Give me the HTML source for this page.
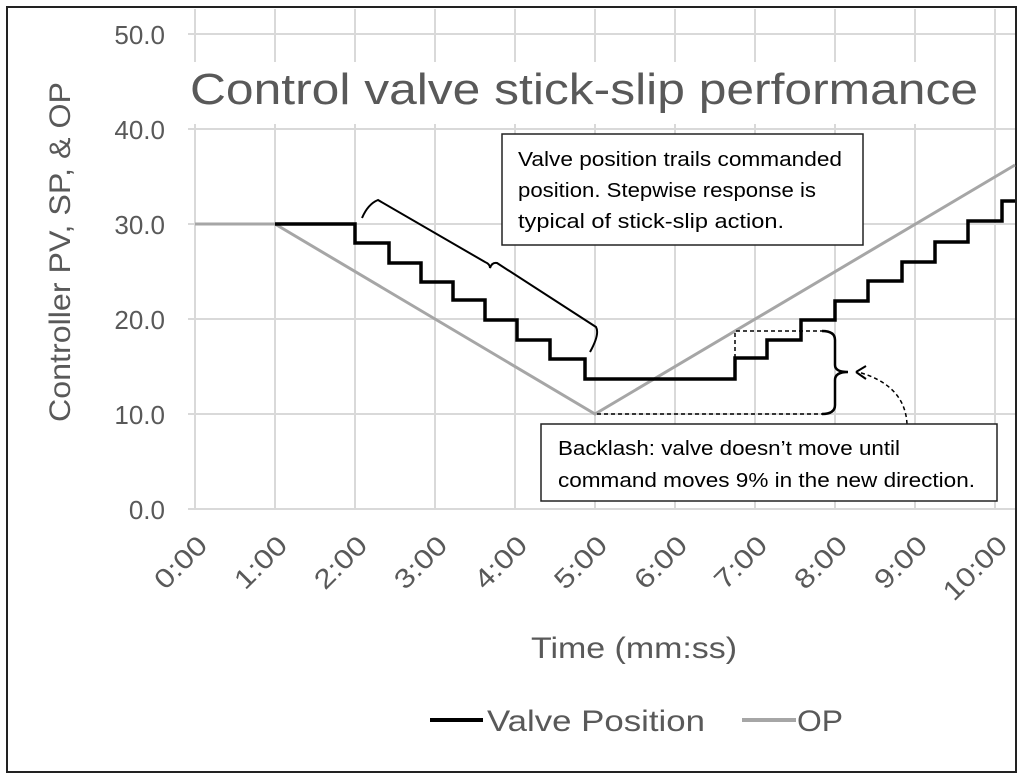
<!DOCTYPE html>
<html><head><meta charset="utf-8"><style>
html,body{margin:0;padding:0;background:#fff;}
svg{display:block;}
text{font-family:"Liberation Sans",sans-serif;fill:#595959;}
</style></head><body>
<svg width="1024" height="780" viewBox="0 0 1024 780" xmlns="http://www.w3.org/2000/svg">
<rect x="7" y="7" width="1009" height="765" fill="#fff" stroke="#222" stroke-width="2"/>
<g stroke="#d9d9d9" stroke-width="2" fill="none">
<line x1="188" y1="34" x2="1015" y2="34"/><line x1="188" y1="129" x2="1015" y2="129"/>
<line x1="188" y1="224" x2="1015" y2="224"/><line x1="188" y1="319" x2="1015" y2="319"/>
<line x1="188" y1="414" x2="1015" y2="414"/><line x1="188" y1="509" x2="1015" y2="509"/>
<line x1="195" y1="9" x2="195" y2="509"/><line x1="275" y1="9" x2="275" y2="509"/>
<line x1="355" y1="9" x2="355" y2="509"/><line x1="435" y1="9" x2="435" y2="509"/>
<line x1="515" y1="9" x2="515" y2="509"/><line x1="595" y1="9" x2="595" y2="509"/>
<line x1="675" y1="9" x2="675" y2="509"/><line x1="755" y1="9" x2="755" y2="509"/>
<line x1="835" y1="9" x2="835" y2="509"/><line x1="915" y1="9" x2="915" y2="509"/>
<line x1="995" y1="9" x2="995" y2="509"/>
</g>
<rect x="185" y="62" width="800" height="62" fill="#fff"/>
<text x="190" y="104" font-size="44" textLength="788" lengthAdjust="spacingAndGlyphs">Control valve stick-slip performance</text>
<g font-size="26" text-anchor="end">
<text x="165" y="44">50.0</text><text x="165" y="139">40.0</text>
<text x="165" y="234">30.0</text><text x="165" y="329">20.0</text>
<text x="165" y="424">10.0</text><text x="165" y="519">0.0</text>
</g>
<text transform="translate(70,252) rotate(-90)" font-size="30" text-anchor="middle" textLength="340" lengthAdjust="spacingAndGlyphs">Controller PV, SP, &amp; OP</text>
<g font-size="27" text-anchor="end">
<text transform="translate(209,547) rotate(-45)" textLength="62" lengthAdjust="spacingAndGlyphs">0:00</text>
<text transform="translate(289,547) rotate(-45)" textLength="62" lengthAdjust="spacingAndGlyphs">1:00</text>
<text transform="translate(369,547) rotate(-45)" textLength="62" lengthAdjust="spacingAndGlyphs">2:00</text>
<text transform="translate(449,547) rotate(-45)" textLength="62" lengthAdjust="spacingAndGlyphs">3:00</text>
<text transform="translate(529,547) rotate(-45)" textLength="62" lengthAdjust="spacingAndGlyphs">4:00</text>
<text transform="translate(609,547) rotate(-45)" textLength="62" lengthAdjust="spacingAndGlyphs">5:00</text>
<text transform="translate(689,547) rotate(-45)" textLength="62" lengthAdjust="spacingAndGlyphs">6:00</text>
<text transform="translate(769,547) rotate(-45)" textLength="62" lengthAdjust="spacingAndGlyphs">7:00</text>
<text transform="translate(849,547) rotate(-45)" textLength="62" lengthAdjust="spacingAndGlyphs">8:00</text>
<text transform="translate(929,547) rotate(-45)" textLength="62" lengthAdjust="spacingAndGlyphs">9:00</text>
<text transform="translate(1009,547) rotate(-45)" textLength="78" lengthAdjust="spacingAndGlyphs">10:00</text>
</g>
<text x="634" y="658" font-size="30" text-anchor="middle" textLength="206" lengthAdjust="spacingAndGlyphs">Time (mm:ss)</text>
<!-- OP -->
<polyline fill="none" stroke="#a6a6a6" stroke-width="3" points="195,224 275,224 595,414 1015,165"/>
<!-- valve -->
<polyline fill="none" stroke="#000" stroke-width="3.5" points="275,224 355,224 355,243 389,243 389,263 421,263 421,282 453,282 453,300 485,300 485,320 517,320 517,340 550,340 550,359 585,359 585,379 735,379 735,358 767,358 767,340 801,340 801,320 835,320 835,301 868,301 868,281 902,281 902,262 935,262 935,242 968,242 968,221 1002,221 1002,201 1015,201"/>
<!-- brace 1 -->
<path d="M362,218 Q368,204 378,200 L485,262 Q490,264 490,268 Q492,262 497,263 L596,327 Q600,334 590,352" fill="none" stroke="#000" stroke-width="2"/>
<rect x="502" y="134" width="361" height="111" fill="#fff" stroke="#222" stroke-width="1.5"/>
<g font-size="20">
<text x="518" y="166" style="fill:#000" textLength="324" lengthAdjust="spacingAndGlyphs">Valve position trails commanded</text>
<text x="518" y="197" style="fill:#000" textLength="298" lengthAdjust="spacingAndGlyphs">position. Stepwise response is</text>
<text x="518" y="228" style="fill:#000" textLength="266" lengthAdjust="spacingAndGlyphs">typical of stick-slip action.</text>
</g>
<!-- backlash -->
<g fill="none" stroke="#000" stroke-width="1.5" stroke-dasharray="4,3">
<polyline points="735,358 735,331 822,331"/>
<line x1="597" y1="414" x2="822" y2="414"/>
<path d="M907,424 Q905,385 858,372"/>
</g>
<path d="M822,331 Q835,331 835,340 L835,365 Q835,372 848,372 Q835,372 835,380 L835,405 Q835,414 822,414" fill="none" stroke="#000" stroke-width="2.5"/>
<path d="M856,372 L866,366 M856,372 L866,379" stroke="#000" stroke-width="2" fill="none"/>
<rect x="541" y="424" width="456" height="77" fill="#fff" stroke="#222" stroke-width="1.5"/>
<text x="558" y="455" font-size="20" style="fill:#000" textLength="342" lengthAdjust="spacingAndGlyphs">Backlash: valve doesn’t move until</text>
<text x="558" y="487" font-size="20" style="fill:#000" textLength="417" lengthAdjust="spacingAndGlyphs">command moves 9% in the new direction.</text>
<!-- legend -->
<line x1="430" y1="720" x2="483" y2="720" stroke="#000" stroke-width="4"/>
<text x="487" y="731" font-size="30" textLength="218" lengthAdjust="spacingAndGlyphs">Valve Position</text>
<line x1="742" y1="720" x2="796" y2="720" stroke="#a6a6a6" stroke-width="4"/>
<text x="797" y="731" font-size="30" textLength="46" lengthAdjust="spacingAndGlyphs">OP</text>
</svg>
</body></html>
